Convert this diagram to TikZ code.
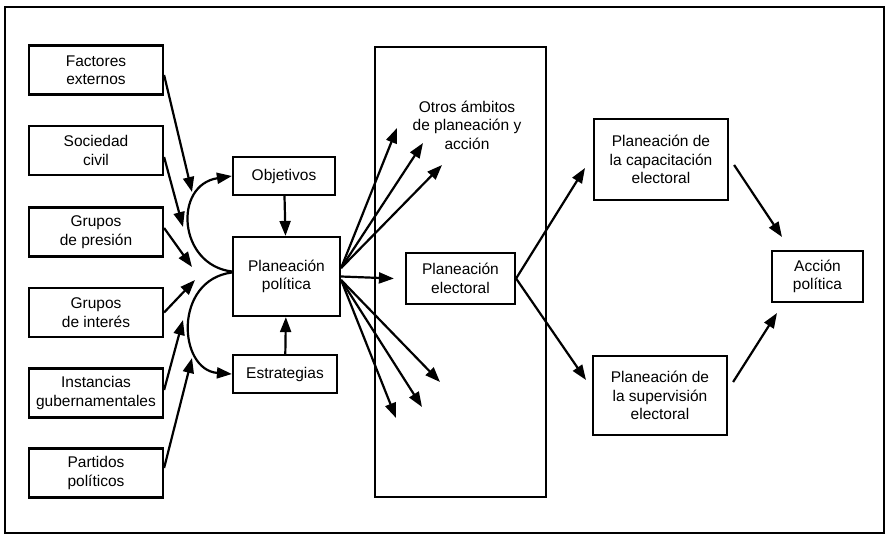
\documentclass[tikz,border=0pt]{standalone}
\usepackage{fontspec}
\setmainfont{Liberation Sans}
\usepackage{tikz}
\usetikzlibrary{arrows.meta}

\begin{document}
\begin{tikzpicture}[x=1pt,y=-1pt, % 坐标按像素取值
	caja/.style={draw,line width=2.2pt,align=center,inner sep=1pt,font=\fontsize{15.5}{18.5}\selectfont},
	lateral/.style={caja,minimum width=134pt,minimum height=49pt},
	flecha/.style={line width=2.2pt,-{Triangle[length=15pt,width=11pt]}}]
				\useasboundingbox (0,0) rectangle (889,535);
				\draw[line width=2.2pt] (5,7) rectangle (884,533);
				\draw[line width=2.2pt] (375,47) rectangle (546,497);
				\node[lateral](FE) at (96,70) {Factores\\externos};
				\node[lateral](SC) at (96,150.5) {Sociedad\\civil};
				\node[lateral](GP) at (96,232) {Grupos\\de presión};
				\node[lateral](GI) at (96,312.5) {Grupos\\de interés};
				\node[lateral](IG) at (96,393) {Instancias\\gubernamentales};
				\node[lateral](PP) at (96,473) {Partidos\\políticos};
				\node[caja,minimum width=102pt,minimum height=38pt](OB) at (284,176) {Objetivos};
				\node[caja,minimum width=107pt,minimum height=79pt](PL) at (286.5,276.5) {Planeación\\política};
				\node[caja,minimum width=104pt,minimum height=38pt](ES) at (285,374) {Estrategias};
				\node[align=center,font=\fontsize{15.5}{18.5}\selectfont](OA) at (467,125) {Otros ámbitos\\de planeación y\\acción};
				\node[caja,minimum width=109pt,minimum height=51pt](PE) at (460.5,278.5) {Planeación\\electoral};
				\node[caja,minimum width=134pt,minimum height=81pt](PC) at (661,159.5) {Planeación de\\la capacitación\\electoral};
				\node[caja,minimum width=134pt,minimum height=79pt](PS) at (660,395.5) {Planeación de\\la supervisión\\electoral};
				\node[caja,minimum width=91pt,minimum height=51pt](AP) at (817.5,276.5) {Acción\\política};
				\coordinate (L1) at (192,192);\coordinate (L2) at (183,227);
				\coordinate (L3) at (192,267);\coordinate (L4) at (195,280);
				\coordinate (L5) at (183,320);\coordinate (L6) at (192,358);
				\coordinate (R1) at (397,128);\coordinate (R2) at (423,143);
				\coordinate (R3) at (442,165);\coordinate (R4) at (440,382);
				\coordinate (R5) at (422,407);\coordinate (R6) at (396,418);
				\coordinate (C1) at (585,168);\coordinate (C2) at (586,380);
				\coordinate (A1) at (782,237);\coordinate (A2) at (777,313);
				\draw[flecha] ([yshift=-5pt]FE.east) -- (L1);
				\draw[flecha] ([yshift=-6.5pt]SC.east) -- (L2);
				\draw[flecha] ([yshift=4pt]GP.east) -- (L3);
				\draw[flecha] (GI.east) -- (L4);
				\draw[flecha] ([yshift=3pt]IG.east) -- (L5);
				\draw[flecha] ([yshift=5pt]PP.east) -- (L6);
				\draw[flecha] ([yshift=5pt]PL.west) .. controls (178,265) and (173,185) .. (OB.west);
				\draw[flecha] ([yshift=4pt]PL.west) .. controls (173,280) and (178,370) .. (ES.west);
				\draw[flecha] (OB) -- (PL);
				\draw[flecha] (ES) -- (PL);
				\foreach \t in {R1,R2,R3} \draw[flecha] ([yshift=8.5pt]PL.east) -- (\t);
				\foreach \t in {R4,R5,R6} \draw[flecha] ([yshift=-3.5pt]PL.east) -- (\t);
				\draw[flecha] (PL.east) -- ([xshift=-11pt]PE.west);
				\draw[flecha] (PE.east) -- (C1);
				\draw[flecha] (PE.east) -- (C2);
				\draw[flecha] ([xshift=5pt,yshift=-5.5pt]PC.east) -- (A1);
				\draw[flecha] ([xshift=5pt,yshift=13.5pt]PS.east) -- (A2);
			\end{tikzpicture}
\end{document}
